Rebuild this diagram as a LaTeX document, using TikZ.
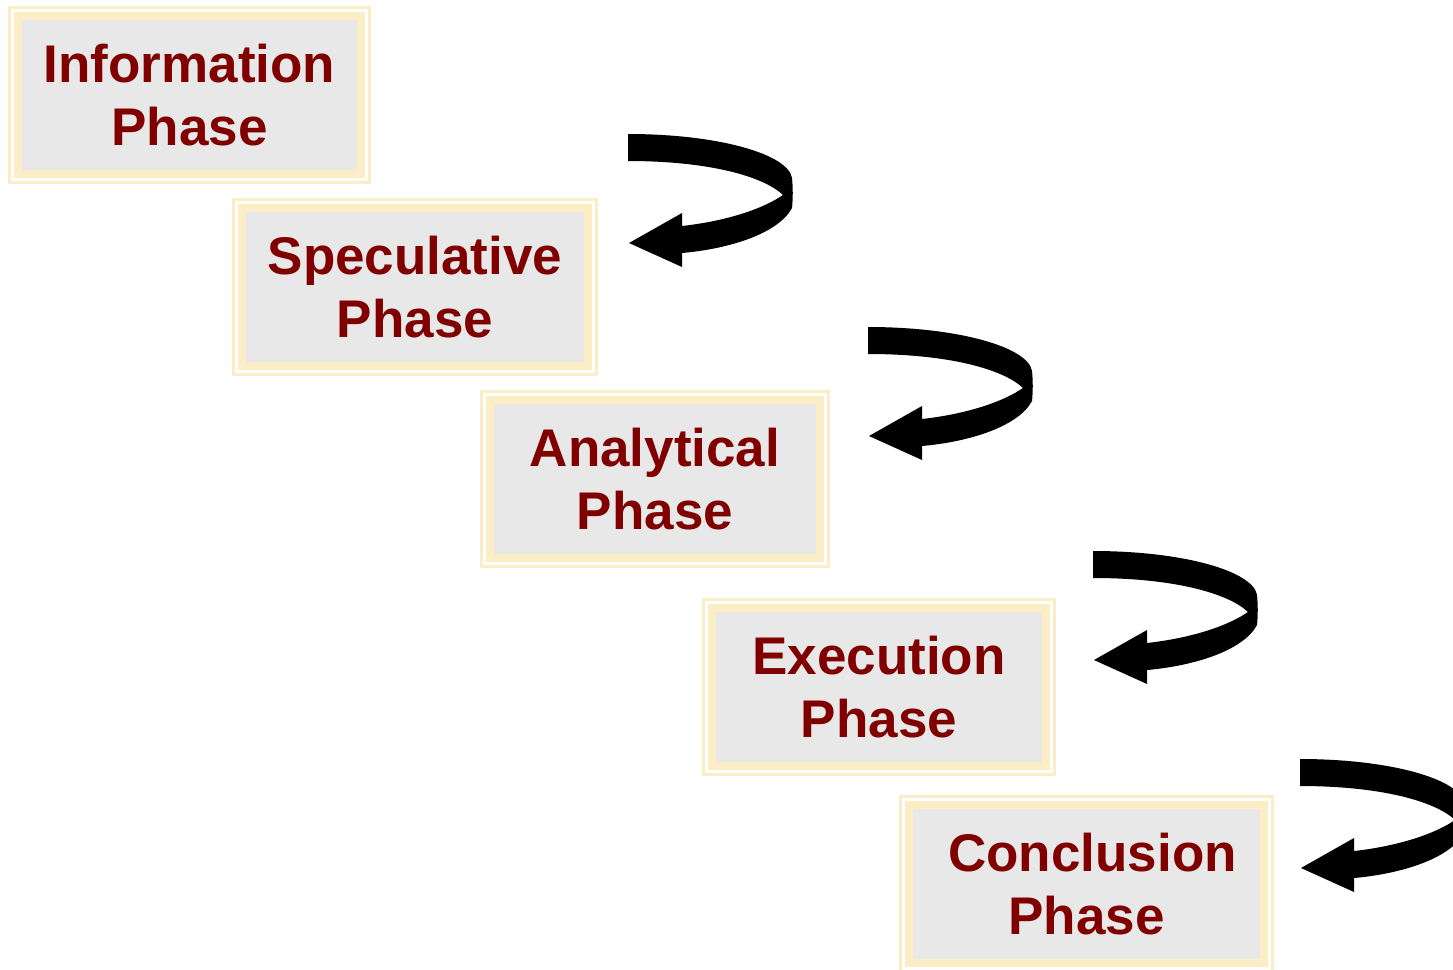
\documentclass[tikz,border=0pt]{standalone}
\usepackage{fontspec}
\setmainfont{Liberation Sans}
\usetikzlibrary{calc}
\definecolor{cream}{HTML}{FBEDC6}
\definecolor{boxgrey}{HTML}{E8E8E8}
\definecolor{phasered}{HTML}{800000}
\tikzset{
  phasebox/.style={draw=cream, line width=8pt, fill=boxgrey, minimum height=158pt,
    inner sep=0pt, outer sep=0pt, align=center, text=phasered,
    font=\bfseries\fontsize{53}{63}\selectfont},
  outerframe/.style={draw=cream, line width=3pt},
  uturn/.pic={
    \fill[black] (0,0) .. controls (90,0) and (160,20) .. (164,44)
      .. controls (165,54) and (165,64) .. (164,74)
      .. controls (150,100) and (100,115) .. (54,119)
      -- (54,133) -- (1,109) -- (54,79) -- (54,92)
      .. controls (90,88) and (130,78) .. (155,61)
      .. controls (135,42) and (80,27) .. (0,27) -- cycle;
  }
}
\newcommand{\frameit}[1]{%
  \draw[outerframe] ([shift={(-8.5pt,-8.5pt)}]#1.south west)
    rectangle ([shift={(8.5pt,8.5pt)}]#1.north east);}
\begin{document}
\begin{tikzpicture}[x=1pt,y=-1pt]
  \useasboundingbox[fill=white] (0,0) rectangle (1453,969);
  % phase boxes
  \node[phasebox, minimum width=343pt] (info) at (189.5,95) {Information\\Phase};
  \node[phasebox, minimum width=346pt] (spec) at (415,287) {Speculative\\Phase};
  \node[phasebox, minimum width=330pt] (anal) at (655,479) {Analytical\\Phase};
  \node[phasebox, minimum width=334pt] (exec) at (879,687) {Execution\\Phase};
  \node[phasebox, minimum width=355pt] (conc) at (1086.5,884) {\hspace*{12pt}Conclusion\\Phase};
  \frameit{info}\frameit{spec}\frameit{anal}\frameit{exec}\frameit{conc}
  % turning arrows between phases
  \pic (a1) at (628,134) {uturn};
  \pic (a2) at (868,327) {uturn};
  \pic (a3) at (1093,551) {uturn};
  \pic (a4) at (1300,759) {uturn};
\end{tikzpicture}
\end{document}
